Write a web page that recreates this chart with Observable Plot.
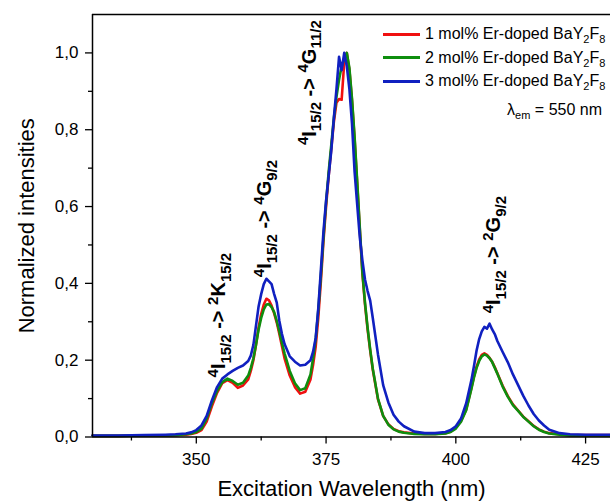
<!DOCTYPE html>
<html><head><meta charset="utf-8">
<script src="https://cdn.jsdelivr.net/npm/d3@7"></script>
<script src="https://cdn.jsdelivr.net/npm/@observablehq/plot@0.6"></script>
<style>
body{margin:0;background:#fff;font-family:"Liberation Sans",Arial,sans-serif;}
#wrap{position:relative;width:610px;height:502px;overflow:hidden;background:#fff;}
#wrap svg{position:absolute;left:0;top:0;}
.lg{position:absolute;left:383px;height:24px;display:flex;align-items:center;font-size:16px;color:#000;white-space:nowrap;}
.sw{display:inline-block;width:37px;height:3px;margin-right:5px;}
.lg sub, #lem sub{font-size:11px;vertical-align:-4px;line-height:0;}
#lem{position:absolute;right:8px;top:100px;font-size:16px;line-height:20px;color:#000;white-space:nowrap;}
</style></head><body><div id="wrap"></div>
<script>
// ---- data ----
const wavelength = [330,335,340,344,346, 348,349,350,351,352, 353,354,355,356,357, 358,359,360,360.5,361,
  361.5,362,362.5,363,363.5, 364,364.5,365,365.5,366, 366.5,367,368,369,370, 371,372,372.5,373,373.5,
  374,374.5,375,375.5,376, 376.5,377,377.5,378,378.5, 379,379.5,380,380.5,381, 381.5,382,382.5,383,383.5,
  384,385,386,387,388, 389,390,392,394,396, 398,399,400,401,402, 403,403.5,404,404.5,405,
  405.5,406,406.5,407,407.5, 408,409,410,411,412, 413,414,415,416,417, 418,420,422,425,430];
const er1 = [0.003,0.003,0.004,0.004,0.005, 0.006,0.008,0.011,0.018,0.040, 0.080,0.115,0.140,0.148,0.141, 0.128,0.134,0.150,0.172,0.200,
  0.240,0.285,0.320,0.345,0.360, 0.356,0.342,0.322,0.298,0.268, 0.236,0.205,0.160,0.130,0.113, 0.118,0.150,0.188,0.235,0.310,
  0.405,0.510,0.600,0.680,0.750, 0.820,0.870,0.880,0.878,0.975, 1.000,0.955,0.875,0.775,0.660, 0.540,0.425,0.345,0.280,0.225,
  0.175,0.098,0.055,0.033,0.021, 0.015,0.012,0.009,0.008,0.008, 0.010,0.014,0.024,0.042,0.072, 0.128,0.158,0.183,0.202,0.214,
  0.218,0.214,0.206,0.196,0.182, 0.166,0.134,0.107,0.085,0.069, 0.053,0.041,0.029,0.020,0.014, 0.010,0.007,0.005,0.005,0.005];
const er2 = [0.003,0.003,0.004,0.004,0.005, 0.007,0.009,0.013,0.022,0.048, 0.088,0.120,0.143,0.152,0.146, 0.136,0.141,0.160,0.180,0.205,
  0.240,0.280,0.310,0.332,0.345, 0.346,0.338,0.325,0.302,0.275, 0.245,0.218,0.172,0.140,0.122, 0.127,0.163,0.205,0.255,0.330,
  0.420,0.520,0.610,0.690,0.760, 0.830,0.885,0.930,0.965,0.985, 1.000,0.960,0.880,0.780,0.665, 0.545,0.430,0.350,0.285,0.228,
  0.178,0.100,0.055,0.032,0.020, 0.014,0.011,0.008,0.007,0.007, 0.009,0.013,0.022,0.040,0.070, 0.125,0.155,0.180,0.198,0.210,
  0.215,0.212,0.205,0.195,0.180, 0.165,0.132,0.105,0.083,0.068, 0.052,0.040,0.028,0.019,0.013, 0.009,0.006,0.004,0.004,0.004];
const er3 = [0.004,0.004,0.005,0.006,0.007, 0.009,0.012,0.018,0.030,0.055, 0.095,0.130,0.152,0.163,0.172, 0.180,0.186,0.198,0.212,0.240,
  0.290,0.340,0.372,0.398,0.412, 0.405,0.398,0.372,0.350,0.302, 0.268,0.242,0.210,0.196,0.186, 0.188,0.200,0.222,0.258,0.335,
  0.435,0.535,0.615,0.680,0.745, 0.830,0.905,0.990,0.955,1.000, 0.965,0.905,0.815,0.690,0.605, 0.520,0.460,0.410,0.380,0.355,
  0.310,0.215,0.135,0.090,0.058, 0.040,0.028,0.014,0.010,0.010, 0.013,0.018,0.028,0.048,0.088, 0.148,0.185,0.225,0.255,0.275,
  0.287,0.282,0.295,0.280,0.268, 0.250,0.222,0.195,0.163,0.135, 0.107,0.082,0.060,0.043,0.030, 0.019,0.010,0.007,0.006,0.006];
const seriesLabels = ["1 mol% Er-doped BaY<sub>2</sub>F<sub>8</sub>", "2 mol% Er-doped BaY<sub>2</sub>F<sub>8</sub>", "3 mol% Er-doped BaY<sub>2</sub>F<sub>8</sub>"];
const seriesColors = ["#f01010", "#0e8e0e", "#1020c0"];
const xTicks = [350, 375, 400, 425];
const xMinor = [337.5, 362.5, 387.5, 412.5];
const yTicks = [0, 0.2, 0.4, 0.6, 0.8, 1.0];
const yMinor = [0.1, 0.3, 0.5, 0.7, 0.9];
const annoLabels = ["^4I_15/2 -> ^2K_15/2", "^4I_15/2 -> ^4G_9/2", "^4I_15/2 -> ^4G_11/2", "^4I_15/2 -> ^2G_9/2"];
const annoX = [354.3, 363.2, 371.8, 407.3];
const annoY = [0.155, 0.416, 0.76, 0.322];
const xLabel = "Excitation Wavelength (nm)";
const yLabel = "Normalized intensities";

// ---- chart ----
const seriesData = [er1, er2, er3].map(vals => wavelength.map((w, i) => ({w, v: vals[i]})));
const fmt = d => d.toFixed(1).replace(".", ",");
const FONT = '"Liberation Sans", Arial, sans-serif';

const plot = Plot.plot({
  width: 610, height: 502,
  marginLeft: 92, marginRight: 0, marginTop: 14, marginBottom: 65.5,
  style: {fontFamily: FONT, fontSize: "17px", color: "#000", background: "transparent", overflow: "visible"},
  x: {domain: [330, 429.8]},
  y: {domain: [0, 1.1]},
  marks: [
    Plot.axisX({ticks: xTicks, tickSize: 7, tickPadding: 9, fontSize: 17, strokeWidth: 1.3, label: null}),
    Plot.axisX({ticks: xMinor, tickSize: 4, tickFormat: () => "", strokeWidth: 1.3, label: null}),
    Plot.axisY({ticks: yTicks, tickSize: 7, tickPadding: 7, fontSize: 17, tickFormat: fmt, strokeWidth: 1.3, label: null}),
    Plot.axisY({ticks: yMinor, tickSize: 4, tickFormat: () => "", strokeWidth: 1.3, label: null}),
    ...seriesData.map((d, k) => Plot.line(d, {x: "w", y: "v", stroke: seriesColors[k], strokeWidth: 2.6, curve: "linear"})),
    Plot.ruleY([0], {strokeWidth: 1.5}),
    Plot.ruleY([1.1], {strokeWidth: 1.5}),
    Plot.ruleX([330], {strokeWidth: 1.5}),
    Plot.text(annoLabels, {x: annoX, y: annoY, text: d => d, rotate: -90, textAnchor: "start", fontWeight: "bold", fontSize: 20, fill: "#000"}),
    Plot.text([xLabel], {frameAnchor: "bottom", lineAnchor: "middle", textAnchor: "middle", dy: 52, fontSize: 22, fill: "#000"}),
    Plot.text([yLabel], {frameAnchor: "left", lineAnchor: "middle", textAnchor: "middle", dx: -66, rotate: -90, fontSize: 22, fill: "#000"})
  ]
});

// rich text (super/subscripts) for transition labels
function richify(el, markup) {
  const re = /\^([0-9]+)|_([0-9\/]+)|([^\^_]+)/g;
  el.textContent = "";
  let cur = 0, m;
  while ((m = re.exec(markup))) {
    const ts = document.createElementNS("http://www.w3.org/2000/svg", "tspan");
    let shift = 0, str, small = false;
    if (m[1] != null) { shift = -7.5; str = m[1]; small = true; }
    else if (m[2] != null) { shift = 5.5; str = m[2]; small = true; }
    else str = m[3];
    if (small) ts.setAttribute("font-size", 15);
    if (shift !== cur) ts.setAttribute("dy", shift - cur);
    cur = shift;
    ts.textContent = str;
    el.appendChild(ts);
  }
}
plot.querySelectorAll("text").forEach(t => {
  if (annoLabels.includes(t.textContent)) richify(t, t.textContent);
});

const wrap = document.getElementById("wrap");
wrap.appendChild(plot);

// legend
const rowCenters = [34, 57.5, 81];
seriesLabels.forEach((lab, k) => {
  const row = document.createElement("div");
  row.className = "lg";
  row.style.top = (rowCenters[k] - 12) + "px";
  row.innerHTML = `<span class="sw" style="background:${seriesColors[k]}"></span><span>${lab}</span>`;
  wrap.appendChild(row);
});
const lem = document.createElement("div");
lem.id = "lem";
lem.innerHTML = "λ<sub>em</sub> = 550 nm";
wrap.appendChild(lem);
</script>
</body></html>
